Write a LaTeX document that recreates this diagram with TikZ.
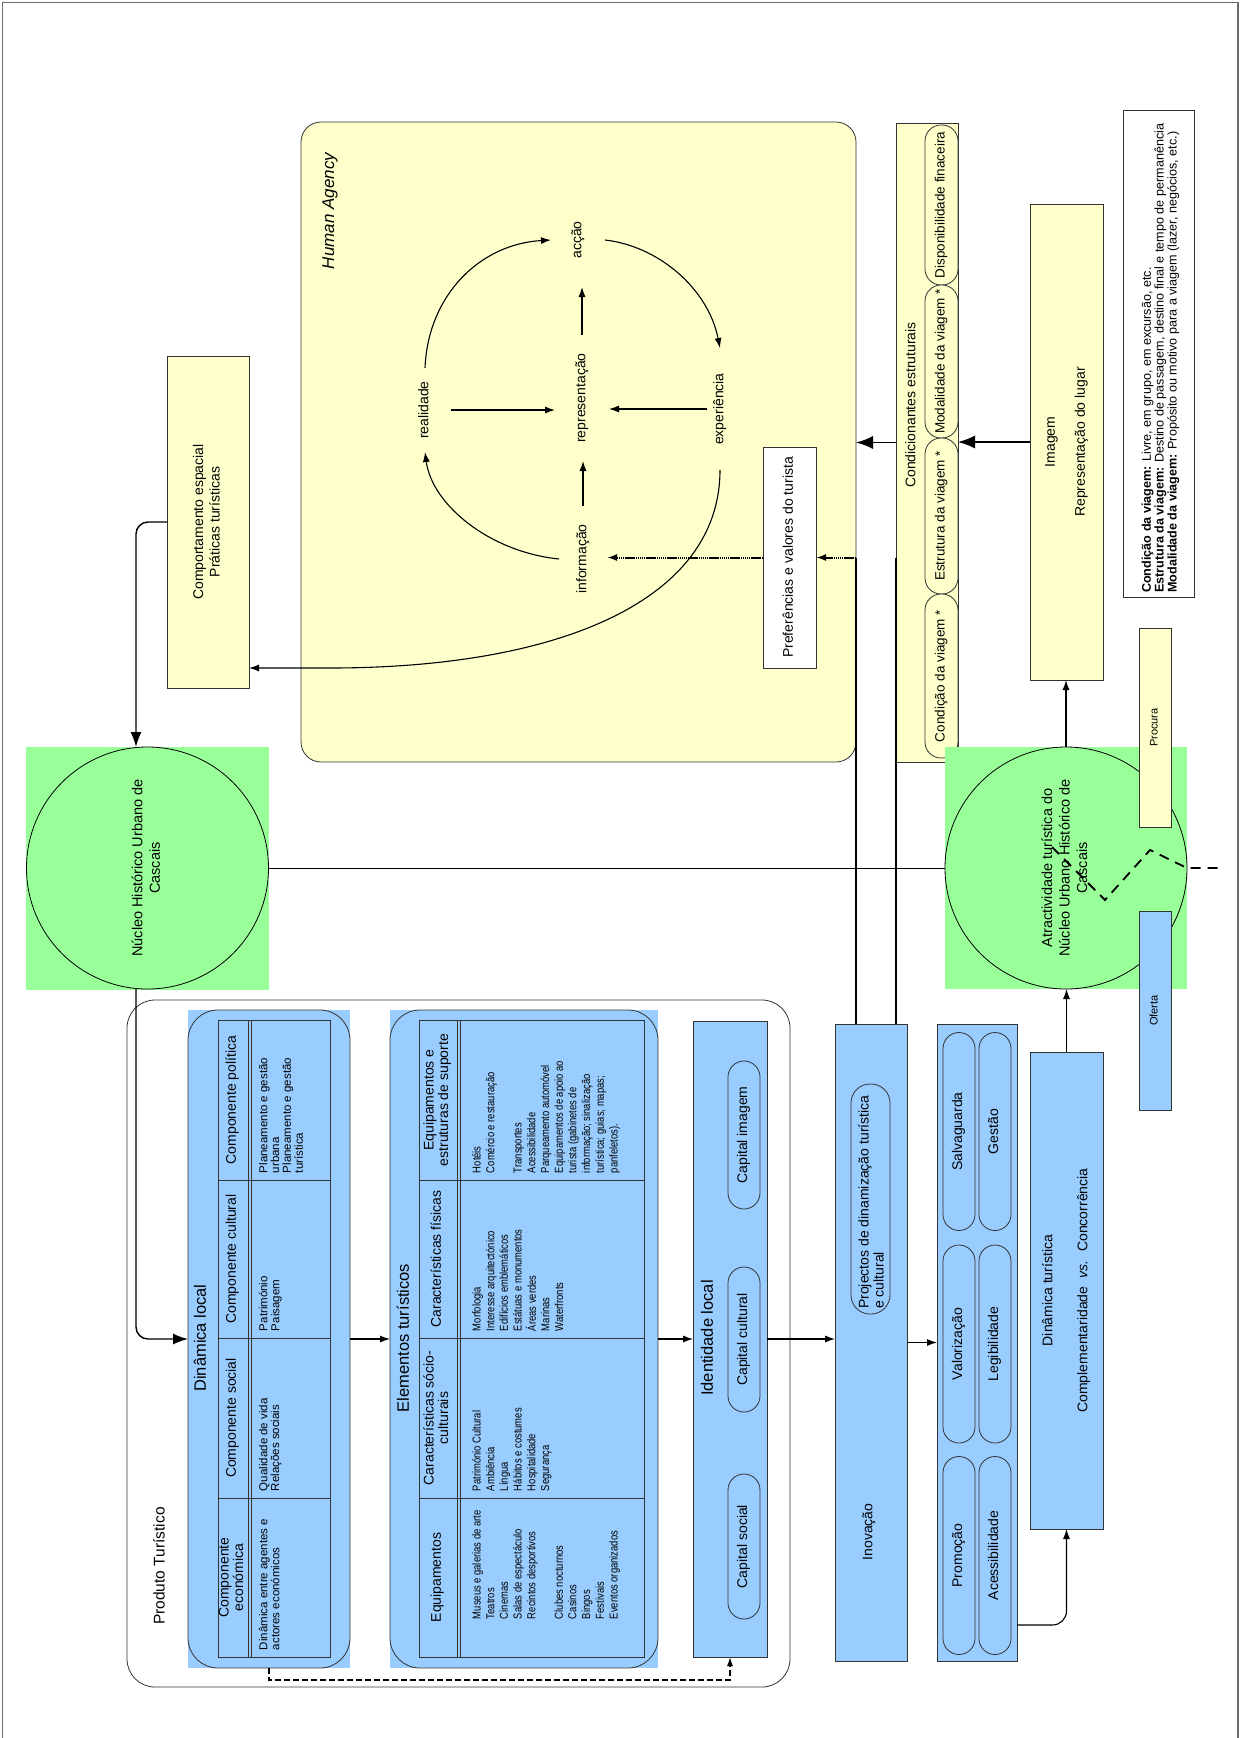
\documentclass[tikz,border=0pt]{standalone}
\usepackage{fontspec}
\setmainfont{Liberation Sans}
\newfontfamily\narrowsans[FakeStretch=0.82]{Liberation Sans}
\usepackage{graphicx}
\usetikzlibrary{arrows.meta}

\definecolor{paleyellow}{RGB}{255,255,204}
\definecolor{palegreen}{RGB}{153,255,153}
\definecolor{paleblue}{RGB}{153,204,255}
\definecolor{edgec}{RGB}{51,51,51}
\definecolor{framec}{RGB}{110,110,110}

% font size shortcut and vertical (bottom-to-top) text block
\newcommand{\fsz}[2]{\fontsize{#1}{#2}\selectfont}
\newcommand{\vtxt}[2][c]{\rotatebox{90}{\begin{tabular}{@{}#1@{}}#2\end{tabular}}}

\begin{document}
\begin{tikzpicture}[x=1pt, y=-1pt,
  box/.style={draw=edgec, line width=0.8pt, inner sep=0pt, outer sep=0pt},
  ybox/.style={box, fill=paleyellow},
  bbox/.style={box, fill=paleblue},
  wbox/.style={box, fill=white},
  ypill/.style={ybox, rounded corners=16pt, font=\fsz{13.5}{16}},
  bpill/.style={bbox, rounded corners=16pt, font=\fsz{14}{16}},
  gsq/.style={fill=palegreen, inner sep=0pt, outer sep=0pt},
  ring/.style={circle, draw=black, line width=0.8pt, inner sep=0pt, outer sep=0pt, minimum size=242pt, font=\fsz{14.5}{17.5}},
  txt/.style={inner sep=0pt, outer sep=0pt, font=\fsz{14}{16.5}},
  ttl/.style={inner sep=0pt, outer sep=0pt, font=\fsz{16.5}{19}},
  hdr/.style={inner sep=0pt, outer sep=0pt, font=\fsz{14}{14.5}},
  cellA/.style={inner sep=0pt, outer sep=0pt, anchor=south west, font=\fsz{11.5}{11.5}},
  cellB/.style={inner sep=0pt, outer sep=0pt, anchor=south west, font=\narrowsans\fsz{11.5}{13.7}},
  tline/.style={draw=edgec, line width=0.9pt},
  conn/.style={draw=black, line width=1.1pt},
  thin/.style={draw=black, line width=0.8pt},
  arr/.style={conn, -{Latex[length=10pt,width=7pt]}},
  medarr/.style={conn, line width=1.4pt, -{Latex[length=15pt,width=11pt]}},
  bigarr/.style={conn, line width=1.4pt, -{Latex[length=17pt,width=13pt]}},
  dotarr/.style={draw=black, line width=2pt, dash pattern=on 1.5pt off 0.6pt, -{Latex[length=10pt,width=7pt]}},
  dasharr/.style={draw=black, line width=1.3pt, dash pattern=on 6pt off 3pt, -{Latex[length=9pt,width=6pt]}},
  zig/.style={draw=black, line width=1.8pt, dash pattern=on 10pt off 7pt},
]
\useasboundingbox (0,0) rectangle (1246,1738);
\draw[line width=1.2pt, draw=framec] (2.5,1745) -- (2.5,2.5) -- (1238,2.5) -- (1238,1745);

% ---------------- Human Agency ----------------
\node[ybox, rounded corners=20pt, minimum width=555pt, minimum height=640pt] (ha) at (578.5,442) {};
\node[inner sep=0pt, font=\fsz{17}{20}\itshape] (hatitle) at (330,211) {\vtxt{Human Agency}};

\node[txt, minimum width=52pt, minimum height=84pt] (realidade) at (425,410) {\vtxt{realidade}};
\node[txt, minimum width=54pt, minimum height=126pt] (repres) at (582,398) {\vtxt{representação}};
\node[txt, minimum width=54pt, minimum height=94pt] (accao) at (578,240) {\vtxt{acção}};
\node[txt, minimum width=26pt, minimum height=122pt] (exper) at (720,409) {\vtxt{experiência}};
\node[txt, minimum width=48pt, minimum height=106pt] (inform) at (583,559) {\vtxt{informação}};

\draw[arr] (realidade.east) -- (repres.west |- realidade.east);
\draw[arr] (exper.west) -- (repres.east |- exper.west);
\draw[arr] (inform.north) -- (inform.north |- repres.south);
\draw[arr] (repres.north) -- (repres.north |- accao.south);
\draw[arr] (realidade.north) .. controls (428,295) and (480,244) .. (accao.west);
\draw[arr] (accao.east) .. controls (658,246) and (708,288) .. (exper.north);
\draw[arr] (inform.west) .. controls (490,552) and (432,505) .. (realidade.south);

\node[wbox, minimum width=53pt, minimum height=221pt, font=\fsz{14}{16.5}] (pref) at (789.5,557.5) {\vtxt{Preferências e valores do turista}};
\draw[dotarr] (pref.west) -- (pref.west -| inform.east);

% ---------------- Condicionantes estruturais ----------------
\node[ybox, minimum width=62pt, minimum height=639pt] (cond) at (927,442.5) {};
\node[txt] (condtitle) at (912,405) {\vtxt{Condicionantes estruturais}};
\node[ypill, minimum width=33pt, minimum height=160pt] (disp) at (941.5,205) {\vtxt{Disponibilidade finaceira}};
\node[ypill, minimum width=33pt, minimum height=153pt] (modal) at (941.5,361.5) {\vtxt{Modalidade da viagem *}};
\node[ypill, minimum width=33pt, minimum height=156pt] (estrut) at (941.5,516) {\vtxt{Estrutura da viagem *}};
\node[ypill, minimum width=33pt, minimum height=164pt] (condv) at (941.5,676) {\vtxt{Condição da viagem *}};

% ---------------- Imagem ----------------
\node[ybox, minimum width=73pt, minimum height=476pt, font=\fsz{14}{17}] (imagem) at (1066.5,442) {\vtxt{Imagem\\[13pt]Representação do lugar}};

\draw[bigarr] (cond.west) -- (cond.west -| ha.east);
\draw[bigarr] (imagem.west) -- (imagem.west -| cond.east);

% ---------------- Legend ----------------
\node[wbox, minimum width=71pt, minimum height=487pt] (legend) at (1158.5,353.5) {};
\node[inner sep=0pt, anchor=south, font=\fsz{12.6}{12.4}] (legendtext) at (1161,593)
  {\vtxt[l]{\textbf{Condição da viagem:} Livre, em grupo, em excursão, etc.\\
  \textbf{Estrutura da viagem:} Destino de passagem, destino final e tempo de permanência\\
  \textbf{Modalidade da viagem:} Propósito ou motivo para a viagem (lazer, negócios, etc.)}};

% ---------------- Comportamento ----------------
\node[ybox, minimum width=82pt, minimum height=332pt, font=\fsz{14}{16.5}] (comport) at (208,522) {\vtxt{Comportamento espacial\\Práticas turísticas}};
\draw[arr] (exper.south) .. controls (720,600) and (560,668) .. (330,668) -- ([yshift=20pt]comport.south east);

% ---------------- Núcleo Histórico ----------------
\node[gsq, minimum size=243pt] (nucleobg) at (147.5,868) {};
\node[ring] (nucleo) at (147.5,868) {\vtxt{Núcleo Histórico Urbano de\\Cascais}};
\node[gsq, minimum size=242pt] (atractbg) at (1066,868) {};
\node[ring] (atract) at (1066,868) {\vtxt{Atractividade turística do\\Núcleo Urbano Histórico de\\Cascais}};

\draw[medarr, rounded corners=12pt] (comport.west) -| ([xshift=-11.5pt]nucleo.north);
\draw[thin] (nucleo.east) -- (atract.west);

\node[ybox, minimum width=32pt, minimum height=199pt, font=\fsz{11}{13}] (procura) at (1155,727.5) {\vtxt{Procura}};
\node[bbox, minimum width=32pt, minimum height=199pt, font=\fsz{11}{13}] (oferta) at (1155,1010.5) {\vtxt{Oferta}};

\coordinate (z1) at (1052,847);
\coordinate (z2) at (1105,900);
\coordinate (z3) at (1150,850);
\coordinate (z5) at (1222,868);
\draw[zig] (z1) -- (z2) -- (z3) -- (atract.east) -- (z5);

\draw[arr] (atract.north) -- (atract.north |- imagem.south);

% ---------------- Produto Turístico ----------------
\node[wbox, rounded corners=28pt, minimum width=663pt, minimum height=687pt] (produto) at (458.5,1343.5) {};
\node[inner sep=0pt, font=\fsz{15.5}{18}] (produtotitle) at (161,1566) {\vtxt{Produto Turístico}};

% Dinâmica local
\node[fill=paleblue, inner sep=0pt, outer sep=0pt, minimum width=162pt, minimum height=658pt] (dinloc) at (269,1339) {};
\draw[draw=edgec, line width=0.8pt, rounded corners=30pt] (dinloc.south west) rectangle (dinloc.north east);
\node[ttl] (dltitle) at (202,1338) {\vtxt{Dinâmica local}};
\node[box, minimum width=112pt, minimum height=637pt] (dltab) at (274,1338.5) {};
\draw[tline] (248,1020) -- (248,1657) (251,1020) -- (251,1657);
\foreach \yy in {1180,1338,1498} \draw[tline] (218,\yy) -- (330,\yy);
\node[hdr] (dlh1) at (233,1577.5) {\vtxt{Componente\\económica}};
\node[hdr] (dlh2) at (233,1418) {\vtxt{Componente social}};
\node[hdr] (dlh3) at (233,1259) {\vtxt{Componente cultural}};
\node[hdr] (dlh4) at (233,1100) {\vtxt{Componente política}};
\node[cellA] (dlc1) at (259,1650) {\vtxt[l]{Dinâmica entre agentes e\\actores económicos}};
\node[cellA] (dlc2) at (259,1491) {\vtxt[l]{Qualidade de vida\\Relações sociais}};
\node[cellA] (dlc3) at (259,1331) {\vtxt[l]{Património\\Paisagem}};
\node[cellA] (dlc4) at (259,1173) {\vtxt[l]{Planeamento e gestão\\urbana\\Planeamento e gestão\\turística}};

% Elementos turísticos
\node[fill=paleblue, inner sep=0pt, outer sep=0pt, minimum width=268pt, minimum height=658pt] (elem) at (524,1339) {};
\draw[draw=edgec, line width=0.8pt, rounded corners=30pt] (elem.south west) rectangle (elem.north east);
\node[ttl] (eltitle) at (405,1338) {\vtxt{Elementos turísticos}};
\node[box, minimum width=225pt, minimum height=637pt] (eltab) at (531.5,1338.5) {};
\draw[tline] (457,1020) -- (457,1657) (460,1020) -- (460,1657);
\foreach \yy in {1180,1338,1498} \draw[tline] (419,\yy) -- (644,\yy);
\node[hdr] (elh1) at (438,1577.5) {\vtxt{Equipamentos}};
\node[hdr] (elh2) at (438,1418) {\vtxt{Características sócio-\\culturais}};
\node[hdr] (elh3) at (438,1259) {\vtxt{Características físicas}};
\node[hdr] (elh4) at (438,1100) {\vtxt{Equipamentos e\\estruturas de suporte}};
\node[cellB] (elc1) at (471,1619) {\vtxt[l]{Museus e galerias de arte\\Teatros\\Cinemas\\Salas de espectáculo\\Recintos desportivos\\ \\Clubes nocturnos\\Casinos\\Bingos\\Festivais\\Eventos organizados}};
\node[cellB] (elc2) at (471,1491) {\vtxt[l]{Património Cultural\\Ambiência\\Língua\\Hábitos e costumes\\Hospitalidade\\Segurança}};
\node[cellB] (elc3) at (471,1331) {\vtxt[l]{Morfologia\\Interesse arquitectónico\\Edifícios emblemáticos\\Estátuas e monumentos\\Áreas verdes\\Marinas\\Waterfronts}};
\node[cellB] (elc4) at (471,1173) {\vtxt[l]{Hotéis\\Comércio e restauração\\ \\Transportes\\Acessibilidade\\Parqueamento automóvel\\Equipamentos de apoio ao\\turista (gabinetes de\\informação; sinalização\\turística; guias; mapas;\\panfeletos).}};

% Identidade local
\node[bbox, minimum width=74pt, minimum height=636pt] (ident) at (730,1339) {};
\node[ttl] (idtitle) at (709,1338) {\vtxt{Identidade local}};
\node[bpill, minimum width=32pt, minimum height=148pt] (capimg) at (744,1135) {\vtxt{Capital imagem}};
\node[bpill, minimum width=32pt, minimum height=145pt] (capcult) at (744,1339.5) {\vtxt{Capital cultural}};
\node[bpill, minimum width=32pt, minimum height=145pt] (capsoc) at (744,1546.5) {\vtxt{Capital social}};

% connectors inside the tourist product
\draw[medarr, rounded corners=12pt] ([xshift=-11.5pt]nucleo.south) |- (dinloc.west);
\draw[arr] (dinloc.east) -- (elem.west);
\draw[arr] (elem.east) -- (ident.west);
\draw[dasharr] (dinloc.south) -- ++(0,12) -| (ident.south);

% ---------------- Inovação ----------------
\node[bbox, minimum width=72pt, minimum height=637pt] (inov) at (871,1342.5) {};
\node[txt] (inovtitle) at (869,1532) {\vtxt{Inovação}};
\node[bbox, rounded corners=19pt, minimum width=39pt, minimum height=230pt] (projectos) at (870.5,1199) {};
\node[inner sep=0pt, anchor=south, font=\fsz{14}{15}] (projtext) at (873,1309) {\vtxt[l]{Projectos de dinamização turística\\e cultural}};
\draw[arr] (ident.east) -- (ident.east -| inov.west);

\coordinate (hajoin) at (856,557.5);
\coordinate (condjoin) at (896,557.5);
\draw[conn] ([xshift=21pt]inov.north west) -- (hajoin);
\draw[dotarr] (hajoin) -- (pref.east);
\draw[conn] (inov.north -| cond.west) -- (condjoin);

% ---------------- Salvaguarda block ----------------
\node[bbox, minimum width=80pt, minimum height=637pt] (salv) at (977,1342.5) {};
\node[bpill, minimum width=32pt, minimum height=198pt] (salvag) at (959,1131.5) {\vtxt{Salvaguarda}};
\node[bpill, minimum width=32pt, minimum height=198pt] (valor) at (959,1344) {\vtxt{Valorização}};
\node[bpill, minimum width=32pt, minimum height=198pt] (promo) at (959,1555.5) {\vtxt{Promoção}};
\node[bpill, minimum width=32pt, minimum height=198pt] (gestao) at (995,1131.5) {\vtxt{Gestão}};
\node[bpill, minimum width=32pt, minimum height=198pt] (legib) at (995,1344) {\vtxt{Legibilidade}};
\node[bpill, minimum width=32pt, minimum height=198pt] (acess) at (995,1555.5) {\vtxt{Acessibilidade}};
\draw[arr] (inov.east) -- (salv.west);

% ---------------- Dinâmica turística ----------------
\node[bbox, minimum width=73pt, minimum height=477pt, font=\fsz{14}{17}] (dintur) at (1066.5,1290.5) {\vtxt{Dinâmica turística\\[18pt]Complementaridade \ \textit{vs.} \ Concorrência}};
\draw[arr, rounded corners=14pt] ([yshift=36pt]salv.south east) -| (dintur.south);
\draw[arr] (dintur.north) -- (dintur.north |- atract.south);

\end{tikzpicture}
\end{document}
